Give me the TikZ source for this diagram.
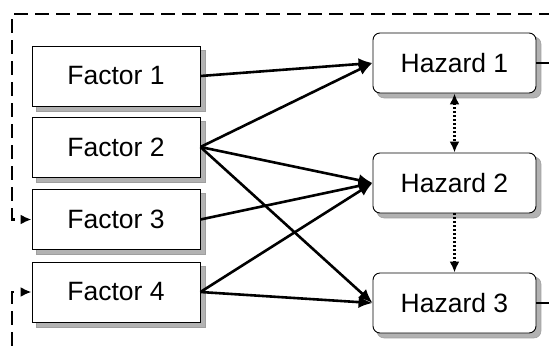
\documentclass[tikz,border=0pt]{standalone}
\usepackage{fontspec}
\setmainfont{Liberation Sans}
\usetikzlibrary{arrows.meta,backgrounds}
\begin{document}
\begin{tikzpicture}[x=1pt,y=-1pt,
  every node/.style={font=\fontsize{26.5}{30}\selectfont},
  factor/.style={draw,line width=0.9pt,fill=white,minimum width=168pt,minimum height=60pt,inner sep=0pt},
  hazard/.style={draw,line width=0.9pt,fill=white,rounded corners=7pt,minimum width=163pt,minimum height=60pt,inner sep=0pt},
  shadowbox/.style={fill=gray!60,draw=gray!75,line width=0.6pt},
  link/.style={line width=2.6pt,-{Latex[length=14pt,width=12pt]}},
  dots/.style={line width=2.2pt,dash pattern=on 2pt off 2pt},
  fb/.style={line width=2.6pt,dash pattern=on 14pt off 7pt,-{Latex[length=11pt,width=10pt]}}]
\useasboundingbox (0,0) rectangle (549,349);
\node[factor] (f1) at (116,76) {Factor 1};
\node[factor] (f2) at (116,147) {Factor 2};
\node[factor] (f3) at (116,219.5) {Factor 3};
\node[factor] (f4) at (116,292) {Factor 4};
\node[hazard] (h1) at (454.5,63) {Hazard 1};
\node[hazard] (h2) at (454.5,183) {Hazard 2};
\node[hazard] (h3) at (454.5,303) {Hazard 3};
\begin{pgfonlayer}{background}
\foreach \n in {f1,f2,f3,f4}
  \filldraw[shadowbox] ([shift={(4.5,4.5)}]\n.north west) rectangle ([shift={(4.5,4.5)}]\n.south east);
\foreach \n in {h1,h2,h3}
  \filldraw[shadowbox,rounded corners=7pt] ([shift={(4.5,4.5)}]\n.north west) rectangle ([shift={(4.5,4.5)}]\n.south east);
\end{pgfonlayer}
\draw[link] (f1.east) -- (h1.west);
\draw[link] (f2.east) -- (h1.west);
\draw[link] (f2.east) -- (h2.west);
\draw[link] (f2.east) -- (h3.west);
\draw[link] (f3.east) -- (h2.west);
\draw[link] (f4.east) -- (h2.west);
\draw[link] (f4.east) -- (h3.west);
\draw[dots,{Latex[length=11pt,width=10pt]}-{Latex[length=11pt,width=10pt]}] (h1.south) -- (h2.north);
\draw[dots,-{Latex[length=11pt,width=10pt]}] (h2.south) -- (h3.north);
\coordinate (r1) at (562,63);
\coordinate (r2) at (562,14);
\coordinate (r3) at (12,14);
\coordinate (r4) at (12,219.5);
\draw[fb] (h1.east) -- (r1) -- (r2) -- (r3) -- (r4) -- (f3.west);
\coordinate (s1) at (562,303);
\coordinate (s2) at (562,362);
\coordinate (s3) at (12,362);
\coordinate (s4) at (12,292);
\draw[fb] (h3.east) -- (s1) -- (s2) -- (s3) -- (s4) -- (f4.west);
\end{tikzpicture}
\end{document}
